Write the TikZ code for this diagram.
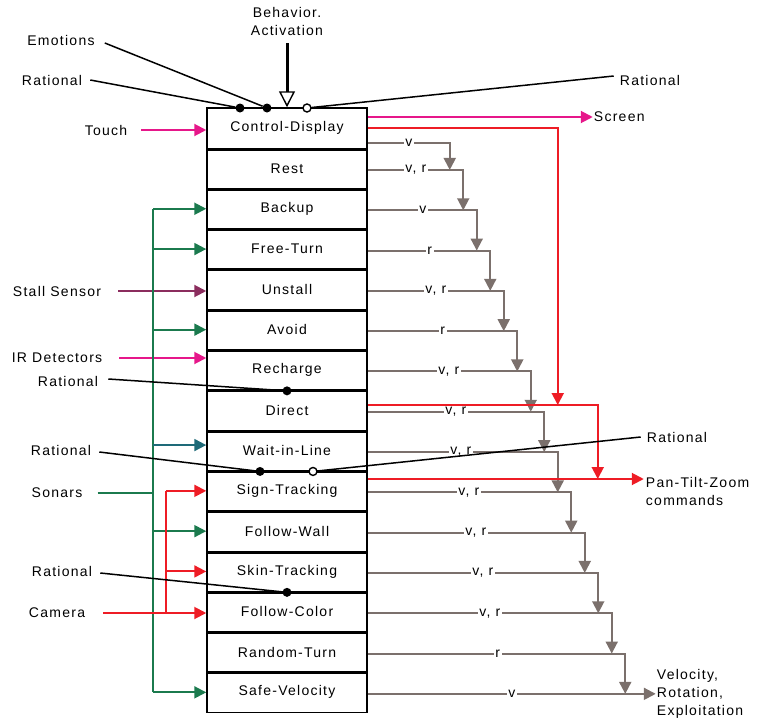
\documentclass[tikz,border=0pt]{standalone}
\usepackage{fontspec}
\setmainfont{Liberation Sans}[LetterSpace=9]
\usetikzlibrary{arrows.meta}
\definecolor{pinkc}{HTML}{E6178A}
\definecolor{stallc}{HTML}{8B2D5E}
\definecolor{greenc}{HTML}{1B7A4E}
\definecolor{tealc}{HTML}{1E6A78}
\definecolor{redc}{HTML}{EE1C25}
\definecolor{grayc}{HTML}{7B706C}
\begin{document}
\begin{tikzpicture}[x=1pt,y=-1pt,
  every node/.style={font=\fontsize{14}{18}\selectfont},
  row/.style={draw,line width=1.5pt,minimum width=160pt,minimum height=40.3pt,inner sep=0pt},
  sep/.style={line width=3pt},
  lab/.style={inner sep=2pt,align=left},
  tip/.style={-{Triangle[width=12pt,length=12pt]}},
  gline/.style={draw=grayc,line width=2pt,tip},
  glab/.style={fill=white,inner sep=1.5pt},
  rline/.style={draw=redc,line width=2pt},
  pline/.style={draw=pinkc,line width=2pt},
  stline/.style={draw=stallc,line width=2pt},
  grline/.style={draw=greenc,line width=2pt},
  tline/.style={draw=tealc,line width=2pt},
  bline/.style={draw=black,line width=1.5pt},
  dot/.style={circle,fill=black,inner sep=0pt,minimum size=9pt},
  odot/.style={circle,draw,fill=white,line width=1.4pt,inner sep=0pt,minimum size=8pt}]
\useasboundingbox (0,0) rectangle (761,726);

% rows
\foreach \nm/\txt [count=\i from 0] in {cd/Control-Display,rest/Rest,backup/Backup,freeturn/Free-Turn,unstall/Unstall,avoid/Avoid,recharge/Recharge,direct/Direct,wait/Wait-in-Line,sign/Sign-Tracking,wall/Follow-Wall,skin/Skin-Tracking,fcolor/Follow-Color,rturn/Random-Turn,safe/Safe-Velocity}
  \node[row] (\nm) at (287,{128.15+40.3*\i}) {\txt};
\foreach \nm in {cd,rest,backup,freeturn,unstall,avoid,recharge,direct,wait,sign,wall,skin,fcolor,rturn}
  \draw[sep] (\nm.south west) -- (\nm.south east);

% gray output chain
\coordinate (go0) at ([yshift=-14.85pt]cd.east);
\foreach \nm [count=\i] in {rest,backup,freeturn,unstall,avoid,recharge,direct,wait,sign,wall,skin,fcolor,rturn,safe}
  \coordinate (go\i) at ([yshift=-1.5pt]\nm.east);
\foreach \i/\l/\t in {0/41/v,1/48/{v, r},2/55/v,3/62/r,4/68/{v, r},5/75/r,6/81/{v, r},7/88/{v, r},8/93/{v, r},9/101/{v, r},10/108/{v, r},11/115/{v, r},12/122/{v, r},13/130/r}{
  \pgfmathtruncatemacro\j{\i+1}
  \pgfmathsetmacro\vx{82+13.5*\i}
  \draw[gline] (go\i) -| ([xshift=\vx pt]go\j);
  \node[glab] (gl\i) at ([xshift=\l pt]go\i) {\t};
}
\draw[gline] (go14) -- ++(288,0);
\node[glab] (gl14) at ([xshift=144pt]go14) {v};
\node[lab,anchor=west] (vout) at ([xshift=287pt]go14) {Velocity,\\Rotation,\\Exploitation};

% red outputs
\coordinate (rd) at ([yshift=5.25pt]direct.east);
\coordinate (rs) at ([yshift=11.85pt]sign.east);
\draw[rline,tip] (cd.east) -| ([xshift=190pt]rd);
\draw[rline,tip] (rd) -| ([xshift=230pt]rs);
\draw[rline,tip] (rs) -- ++(276,0);
\node[lab,anchor=west] (ptz) at ([xshift=276pt,yshift=-12.5pt]rs) {Pan-Tilt-Zoom\\commands};

% pink screen
\coordinate (ps) at ([yshift=11.15pt]cd.east);
\draw[pline,tip] (ps) -- ++(225,0);
\node[lab,anchor=west] (scr) at ([xshift=224pt]ps) {Screen};

% behavior activation
\node[lab,align=center] (beh) at (287,21) {Behavior.\\Activation};
\draw[line width=3pt,-{Triangle[open,width=16pt,length=16pt,line width=1.4pt]}] ([yshift=-6pt]beh.south) -- (cd.north);

% left labels
\node[lab] (emo) at (61,40) {Emotions};
\node[lab] (ratA) at (52,80) {Rational};
\node[lab] (ratB) at (650,80) {Rational};
\node[lab] (touch) at (106,130) {Touch};
\node[lab] (stall) at (57,291) {Stall Sensor};
\node[lab] (ir) at (57,358) {IR Detectors};
\node[lab] (ratC) at (68,381) {Rational};
\node[lab] (ratD) at (61,450) {Rational};
\node[lab] (ratE) at (677,437) {Rational};
\node[lab] (sonars) at (57,493) {Sonars};
\node[lab] (ratF) at (62,571) {Rational};
\node[lab] (camera) at (57,613) {Camera};

% inputs
\draw[pline,tip] ([xshift=12pt]touch.east) -- (touch -| cd.west);
\draw[stline,tip] ([xshift=15pt]stall.east) -- (stall -| unstall.west);
\draw[pline,tip] ([xshift=15pt]ir.east) -- (ir -| recharge.west);
\coordinate (sbus) at (153,0);
\draw[grline] ([xshift=13pt]sonars.east) -- (sbus |- sonars);
\draw[grline] (sbus |- backup) -- (sbus |- safe);
\foreach \nm in {backup,freeturn,avoid,wall,safe}
  \draw[grline,tip] (sbus |- \nm) -- (\nm.west);
\coordinate (wt) at ([yshift=5.5pt]wait.west);
\draw[tline,tip] (sbus |- wt) -- (wt);
\coordinate (cbus) at (166,0);
\draw[rline,tip] ([xshift=16pt]camera.east) -- (camera -| fcolor.west);
\draw[rline] (cbus |- camera) -- (cbus |- sign);
\draw[rline,tip] (cbus |- sign) -- (sign.west);
\draw[rline,tip] (cbus |- skin) -- (skin.west);

% dots
\node[dot] (dA) at (240,108) {};
\node[dot] (dB) at (267,108) {};
\node[odot] (oA) at (307,108) {};
\node[dot] (dC) at (recharge.south) {};
\node[dot] (dD) at (wait.south -| 260,0) {};
\node[odot] (oB) at (wait.south -| 313,0) {};
\node[dot] (dF) at (skin.south) {};

% rational/emotion connectors
\draw[bline] ([xshift=8pt,yshift=-3pt]emo.east) -- (dB);
\draw[bline] ([xshift=6pt]ratA.east) -- (dA);
\draw[bline] ([xshift=-4pt,yshift=4pt]ratB.west) -- (oA);
\draw[bline] ([xshift=8pt,yshift=2pt]ratC.east) -- (dC);
\draw[bline] ([xshift=6pt,yshift=-2pt]ratD.east) -- (dD);
\draw[bline] (dD) -- (oB);
\draw[bline] ([xshift=-4pt]ratE.west) -- (oB);
\draw[bline] ([xshift=6pt,yshift=-2pt]ratF.east) -- (dF);
\end{tikzpicture}
\end{document}
